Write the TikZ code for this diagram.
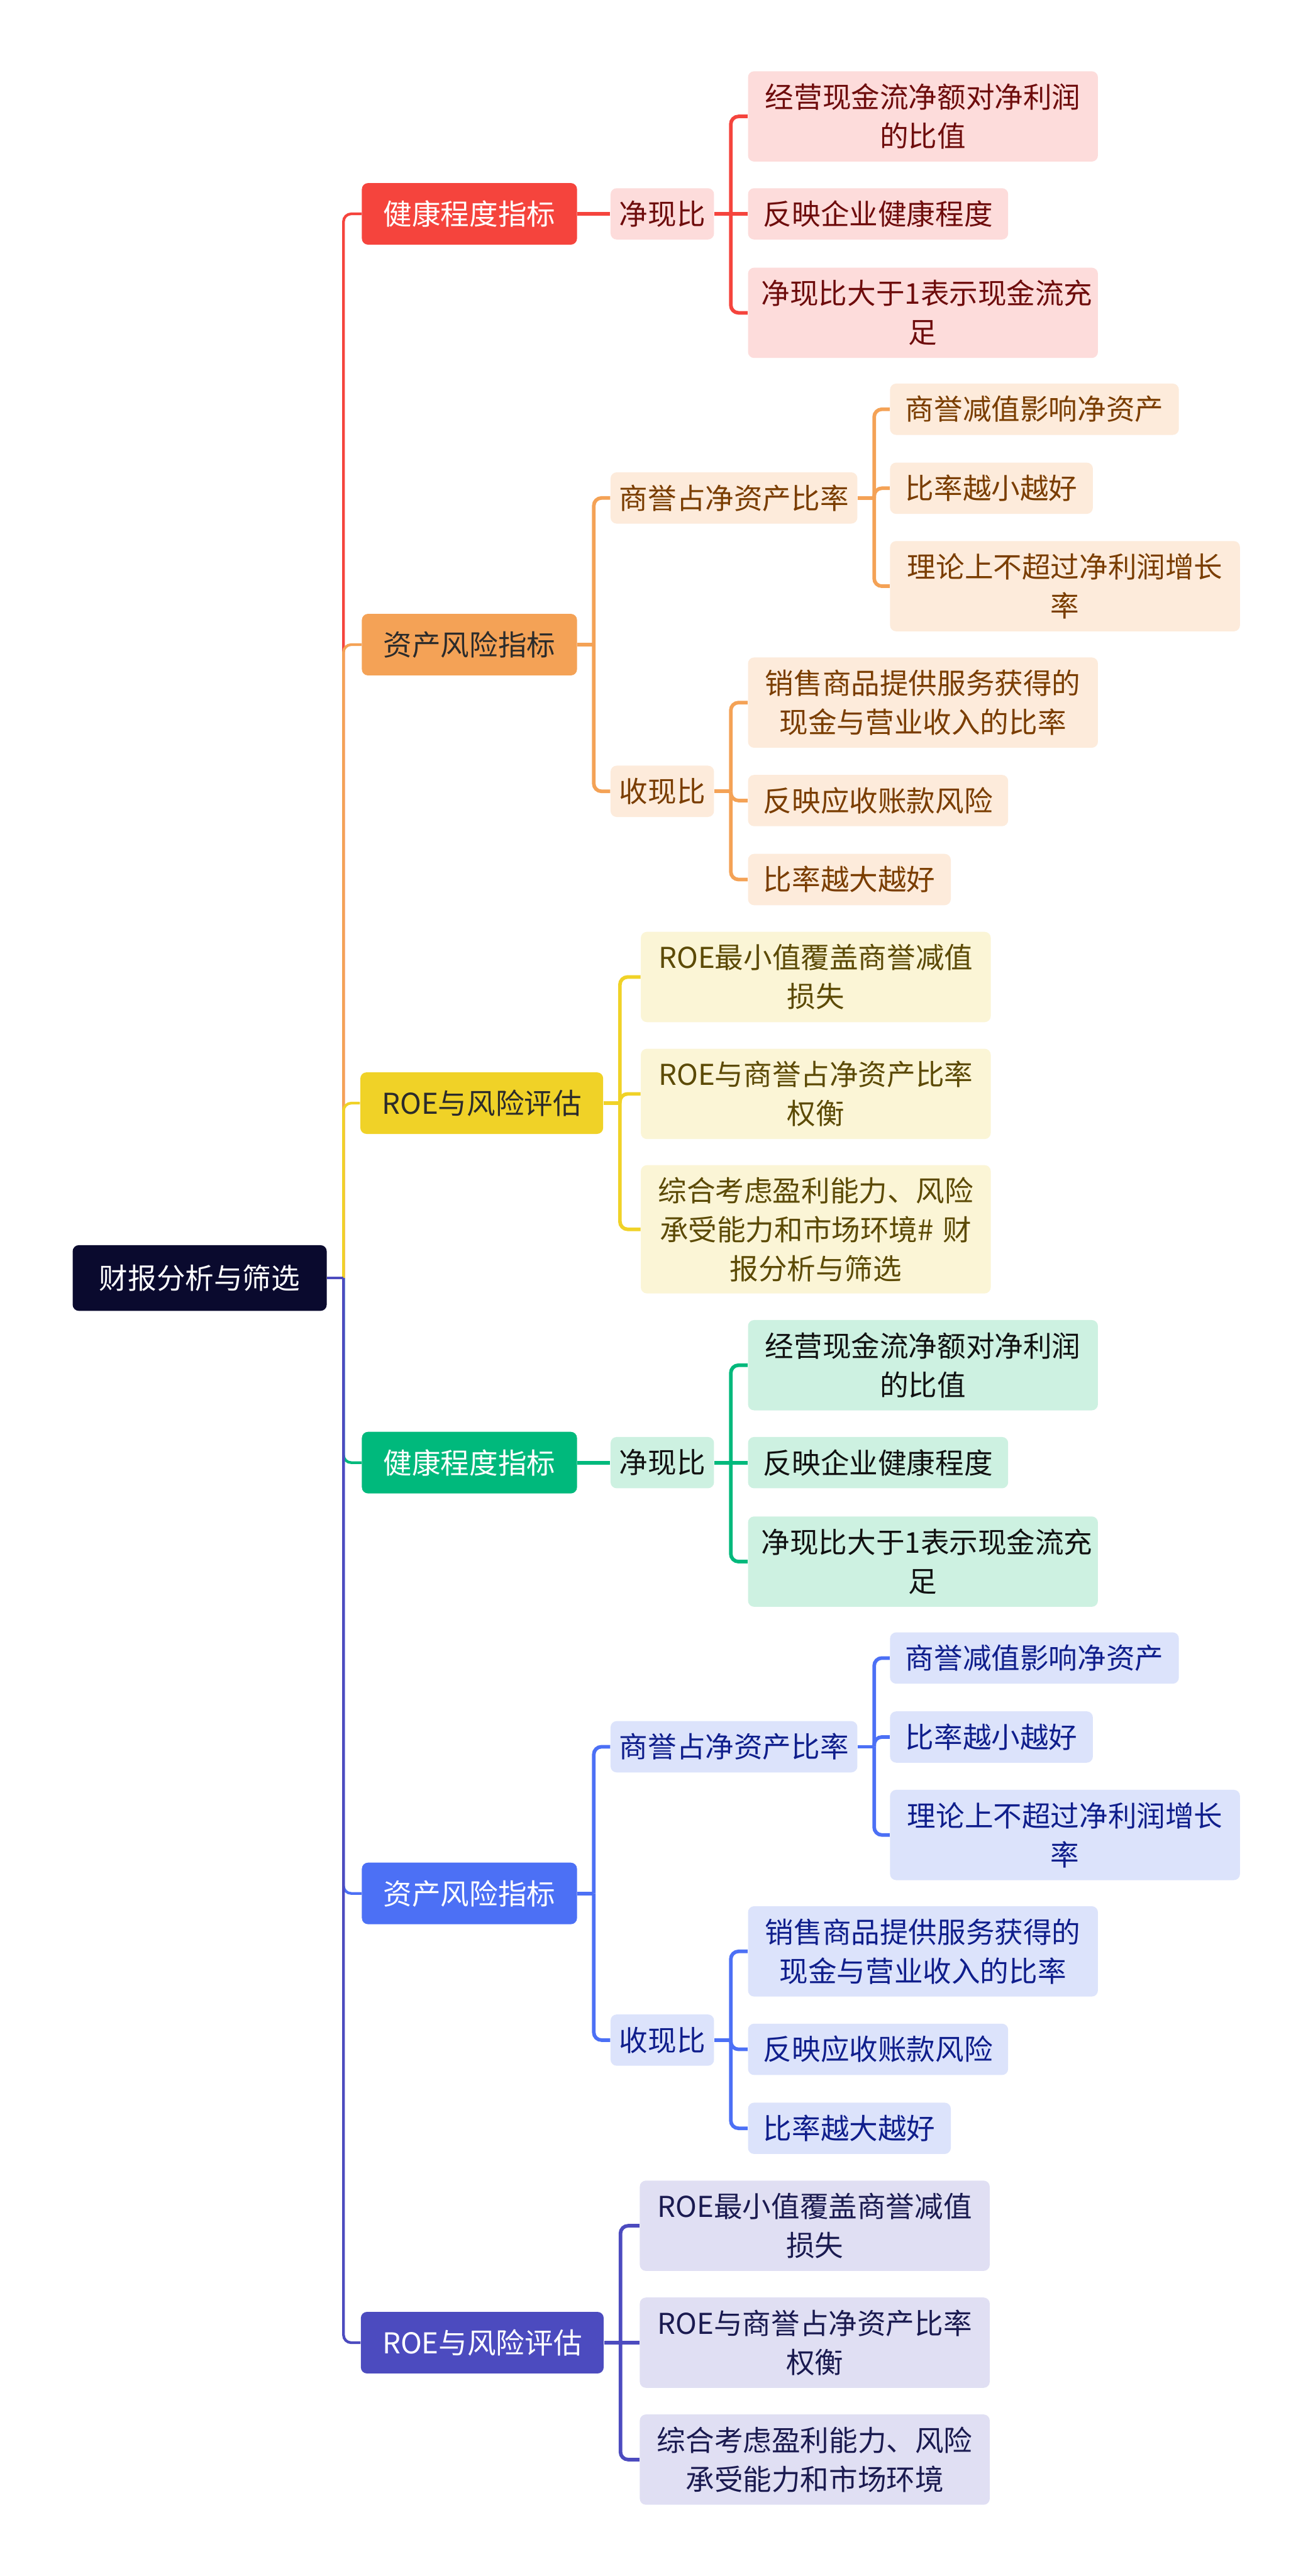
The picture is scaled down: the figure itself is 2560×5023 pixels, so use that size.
\documentclass[tikz,border=0pt]{standalone}
\usepackage{fontspec}
\setmainfont{Noto Sans CJK SC}
\usepackage{tikz}
\definecolor{rootcol}{HTML}{0A0A2E}
\definecolor{headtext}{HTML}{2B2B2B}
\definecolor{redmain}{HTML}{F5443D}
\definecolor{redlight}{HTML}{FDDCDB}
\definecolor{redtext}{HTML}{6E0C0C}
\definecolor{orangemain}{HTML}{F4A256}
\definecolor{orangelight}{HTML}{FDEBDB}
\definecolor{orangetext}{HTML}{7A3D00}
\definecolor{yellowmain}{HTML}{F0D227}
\definecolor{yellowlight}{HTML}{FBF5D6}
\definecolor{yellowtext}{HTML}{5C4A05}
\definecolor{greenmain}{HTML}{00B97C}
\definecolor{greenlight}{HTML}{CDF1E1}
\definecolor{greentext}{HTML}{111111}
\definecolor{bluemain}{HTML}{4C70F5}
\definecolor{bluelight}{HTML}{DCE3FB}
\definecolor{bluetext}{HTML}{0F1E8C}
\definecolor{indigomain}{HTML}{4C4BBF}
\definecolor{indigolight}{HTML}{E0DFF3}
\definecolor{indigotext}{HTML}{1A1A50}
\tikzset{
  basebox/.style={rectangle,rounded corners=0.12cm,align=center,anchor=west,inner ysep=0pt,font=\fontsize{15.9}{21.6}\selectfont},
  rootnode/.style={basebox,fill=rootcol,text=white,inner xsep=0.52cm,minimum height=1.28cm},
  headnode/.style={basebox,inner xsep=0.42cm,minimum height=1.2cm},
  subnode/.style={basebox,inner xsep=0.17cm,minimum height=1.0cm},
  leafnode/.style={basebox,inner xsep=0.3cm,minimum height=1.0cm},
  wideleaf/.style={basebox,inner xsep=0.26cm,text width=6.3cm},
  twoline/.style={wideleaf,minimum height=1.76cm},
  threeline/.style={wideleaf,minimum height=2.5cm},
  trunk/.style={line width=1.5pt,rounded corners=0.15cm},
  link/.style={line width=2pt,rounded corners=0.15cm},
  redhead/.style={headnode,fill=redmain,text=white},
  redsoft/.style={fill=redlight,text=redtext},
  redline/.style={link,draw=redmain},
  orangehead/.style={headnode,fill=orangemain,text=headtext},
  orangesoft/.style={fill=orangelight,text=orangetext},
  orangeline/.style={link,draw=orangemain},
  yellowhead/.style={headnode,fill=yellowmain,text=headtext},
  yellowsoft/.style={fill=yellowlight,text=yellowtext},
  yellowline/.style={link,draw=yellowmain},
  greenhead/.style={headnode,fill=greenmain,text=white},
  greensoft/.style={fill=greenlight,text=greentext},
  greenline/.style={link,draw=greenmain},
  bluehead/.style={headnode,fill=bluemain,text=white},
  bluesoft/.style={fill=bluelight,text=bluetext},
  blueline/.style={link,draw=bluemain},
  indigohead/.style={headnode,fill=indigomain,text=white},
  indigosoft/.style={fill=indigolight,text=indigotext},
  indigoline/.style={link,draw=indigomain}
}

\begin{document}
\begin{tikzpicture}[x=0.01cm,y=-0.01cm]
  \useasboundingbox[fill=white] (0,0) rectangle (2560,5023);

  \node[rootnode] (fin) at (141,2492) {财报分析与筛选};

  % upper half
  \node[redhead] (health1) at (705,417) {健康程度指标};
  \node[subnode,redsoft] (jx1) at (1190,417) {净现比};
  \node[twoline,redsoft] (jx1a) at (1458,227) {经营现金流净额对净利润\\的比值};
  \node[leafnode,redsoft] (jx1b) at (1458,417) {反映企业健康程度};
  \node[twoline,redsoft] (jx1c) at (1458,610) {净现比大于1表示现金流充\\足};

  \node[orangehead] (asset1) at (705,1257) {资产风险指标};
  \node[subnode,orangesoft] (gw1) at (1190,971) {商誉占净资产比率};
  \node[leafnode,orangesoft] (gw1a) at (1735,798) {商誉减值影响净资产};
  \node[leafnode,orangesoft] (gw1b) at (1735,952) {比率越小越好};
  \node[twoline,orangesoft] (gw1c) at (1735,1143) {理论上不超过净利润增长\\率};
  \node[subnode,orangesoft] (cr1) at (1190,1543) {收现比};
  \node[twoline,orangesoft] (cr1a) at (1458,1370) {销售商品提供服务获得的\\现金与营业收入的比率};
  \node[leafnode,orangesoft] (cr1b) at (1458,1561) {反映应收账款风险};
  \node[leafnode,orangesoft] (cr1c) at (1458,1715) {比率越大越好};

  \node[yellowhead] (roe1) at (702,2151) {ROE与风险评估};
  \node[twoline,yellowsoft] (roe1a) at (1249,1905) {ROE最小值覆盖商誉减值\\损失};
  \node[twoline,yellowsoft] (roe1b) at (1249,2133) {ROE与商誉占净资产比率\\权衡};
  \node[threeline,yellowsoft] (roe1c) at (1249,2397) {综合考虑盈利能力、风险\\承受能力和市场环境\# 财\\报分析与筛选};

  % lower half
  \node[greenhead] (health2) at (705,2852) {健康程度指标};
  \node[subnode,greensoft] (jx2) at (1190,2852) {净现比};
  \node[twoline,greensoft] (jx2a) at (1458,2662) {经营现金流净额对净利润\\的比值};
  \node[leafnode,greensoft] (jx2b) at (1458,2852) {反映企业健康程度};
  \node[twoline,greensoft] (jx2c) at (1458,3045) {净现比大于1表示现金流充\\足};

  \node[bluehead] (asset2) at (705,3692) {资产风险指标};
  \node[subnode,bluesoft] (gw2) at (1190,3406) {商誉占净资产比率};
  \node[leafnode,bluesoft] (gw2a) at (1735,3233) {商誉减值影响净资产};
  \node[leafnode,bluesoft] (gw2b) at (1735,3387) {比率越小越好};
  \node[twoline,bluesoft] (gw2c) at (1735,3578) {理论上不超过净利润增长\\率};
  \node[subnode,bluesoft] (cr2) at (1190,3978) {收现比};
  \node[twoline,bluesoft] (cr2a) at (1458,3805) {销售商品提供服务获得的\\现金与营业收入的比率};
  \node[leafnode,bluesoft] (cr2b) at (1458,3996) {反映应收账款风险};
  \node[leafnode,bluesoft] (cr2c) at (1458,4150) {比率越大越好};

  \node[indigohead] (roe2) at (703,4568) {ROE与风险评估};
  \node[twoline,indigosoft] (roe2a) at (1247,4340) {ROE最小值覆盖商誉减值\\损失};
  \node[twoline,indigosoft] (roe2b) at (1247,4568) {ROE与商誉占净资产比率\\权衡};
  \node[twoline,indigosoft] (roe2c) at (1247,4796) {综合考虑盈利能力、风险\\承受能力和市场环境};

  % junction points
  \coordinate (finj) at ([xshift=0.32cm]fin.east);
  \foreach \p in {health1,asset1,roe1,jx1,gw1,cr1,health2,asset2,roe2,jx2,gw2,cr2}
    \coordinate (\p j) at ([xshift=0.32cm]\p.east);

  % root to heads
  \draw[trunk,draw=redmain] (finj) |- (health1.west);
  \draw[trunk,draw=orangemain] (finj) |- (asset1.west);
  \draw[trunk,draw=yellowmain] (finj) |- (roe1.west);
  \draw[trunk,draw=greenmain] (finj) |- (health2.west);
  \draw[trunk,draw=bluemain] (finj) |- (asset2.west);
  \draw[trunk,draw=indigomain] (finj) |- (roe2.west);
  \draw[trunk,draw=indigomain] (fin.east) -- (finj);

  % red
  \draw[redline] (health1.east) -- (jx1.west);
  \draw[redline] (jx1.east) -- (jx1b.west);
  \foreach \c in {jx1a,jx1c} \draw[redline] (jx1j) |- (\c.west);

  % orange
  \draw[orangeline] (asset1.east) -- (asset1j);
  \foreach \c in {gw1,cr1} \draw[orangeline] (asset1j) |- (\c.west);
  \draw[orangeline] (gw1.east) -- (gw1j);
  \foreach \c in {gw1a,gw1b,gw1c} \draw[orangeline] (gw1j) |- (\c.west);
  \draw[orangeline] (cr1.east) -- (cr1j);
  \foreach \c in {cr1a,cr1b,cr1c} \draw[orangeline] (cr1j) |- (\c.west);

  % yellow
  \draw[yellowline] (roe1.east) -- (roe1j);
  \foreach \c in {roe1a,roe1b,roe1c} \draw[yellowline] (roe1j) |- (\c.west);

  % green
  \draw[greenline] (health2.east) -- (jx2.west);
  \draw[greenline] (jx2.east) -- (jx2b.west);
  \foreach \c in {jx2a,jx2c} \draw[greenline] (jx2j) |- (\c.west);

  % blue
  \draw[blueline] (asset2.east) -- (asset2j);
  \foreach \c in {gw2,cr2} \draw[blueline] (asset2j) |- (\c.west);
  \draw[blueline] (gw2.east) -- (gw2j);
  \foreach \c in {gw2a,gw2b,gw2c} \draw[blueline] (gw2j) |- (\c.west);
  \draw[blueline] (cr2.east) -- (cr2j);
  \foreach \c in {cr2a,cr2b,cr2c} \draw[blueline] (cr2j) |- (\c.west);

  % indigo
  \draw[indigoline] (roe2.east) -- (roe2b.west);
  \foreach \c in {roe2a,roe2c} \draw[indigoline] (roe2j) |- (\c.west);
\end{tikzpicture}
\end{document}
